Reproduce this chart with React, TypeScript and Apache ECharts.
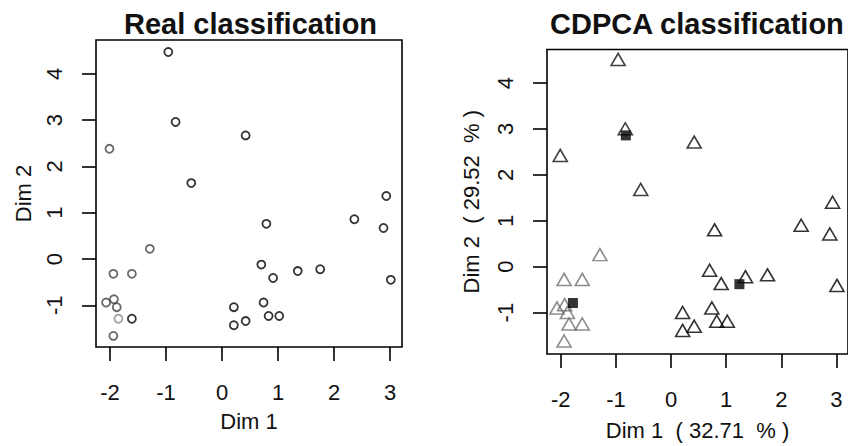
import React, { useEffect, useRef } from "react";
import * as echarts from "echarts";

// Observations (Dim 1, Dim 2)
const dim1 = [-0.96, -0.83, 0.42, -2.01, -0.55, 2.93, 2.36, 0.79, 2.88, -1.29, -1.94, -1.61, 0.7, 0.91, 1.35, 1.75, 3.01, -2.07, -1.93, -1.88, -1.85, -1.61, -1.94, 0.21, 0.21, 0.42, 0.74, 0.83, 1.02];
const dim2 = [4.47, 2.96, 2.67, 2.38, 1.64, 1.36, 0.86, 0.76, 0.67, 0.22, -0.32, -0.32, -0.12, -0.41, -0.26, -0.22, -0.45, -0.94, -0.87, -1.04, -1.29, -1.29, -1.66, -1.04, -1.43, -1.34, -0.94, -1.23, -1.23];
// real class index per observation
const realClass = [0, 0, 0, 1, 0, 0, 0, 0, 0, 1, 1, 1, 0, 0, 0, 0, 0, 1, 1, 1, 2, 0, 1, 0, 0, 0, 0, 0, 0];
// CDPCA class index per observation
const cdpcaClass = [0, 0, 0, 0, 0, 2, 2, 2, 2, 1, 1, 1, 2, 2, 2, 2, 2, 1, 1, 1, 1, 1, 1, 2, 2, 2, 2, 2, 2];
// CDPCA centroids
const centroidDim1 = [-0.82, -1.78, 1.24];
const centroidDim2 = [2.86, -0.79, -0.38];

const xTicks = [-2, -1, 0, 1, 2, 3];
const yTicks = [-1, 0, 1, 2, 3, 4];

const realColors = ["#000000", "#444444", "#888888"];
const cdpcaColors = ["#111111", "#707070", "#000000"];

const FONT = "'Liberation Sans', Arial, sans-serif";

function pts(cls: number[], k: number) {
  const out: number[][] = [];
  for (let i = 0; i < dim1.length; i++) if (cls[i] === k) out.push([dim1[i], dim2[i]]);
  return out;
}

export default function App() {
  const ref = useRef<HTMLDivElement>(null);
  useEffect(() => {
    const chart = echarts.init(ref.current!, undefined, { renderer: "svg" });
    const xAxisBase = (gridIndex: number, name: string, gap: number) => ({
      type: "value",
      gridIndex,
      min: -2.25,
      max: 3.21,
      name,
      nameLocation: "middle",
      nameGap: gap,
      nameTextStyle: { fontFamily: FONT, fontSize: 22, color: "#111" },
      splitLine: { show: false },
      axisLine: { show: false, onZero: false },
      axisTick: { show: true, length: 14, customValues: xTicks, lineStyle: { color: "#000", width: 1.6 } },
      axisLabel: { customValues: xTicks, margin: 34, fontFamily: FONT, fontSize: 22, color: "#111" },
    });
    const yAxisBase = (gridIndex: number, name: string, gap: number, margin: number) => ({
      type: "value",
      gridIndex,
      min: -1.9,
      max: 4.73,
      name,
      nameLocation: "middle",
      nameGap: gap,
      nameRotate: 90,
      nameTextStyle: { fontFamily: FONT, fontSize: 22, color: "#111" },
      splitLine: { show: false },
      axisLine: { show: false, onZero: false },
      axisTick: { show: true, length: 14, customValues: yTicks, lineStyle: { color: "#000", width: 1.6 } },
      axisLabel: { customValues: yTicks, rotate: 90, margin, fontFamily: FONT, fontSize: 22, color: "#111" },
    });
    const series: any[] = [];
    for (let k = 0; k < 3; k++) {
      series.push({
        type: "scatter",
        xAxisIndex: 0,
        yAxisIndex: 0,
        data: pts(realClass, k),
        symbol: "circle",
        symbolSize: 8,
        itemStyle: { color: "rgba(0,0,0,0)", borderColor: realColors[k], borderWidth: 1.8 },
      });
    }
    for (let k = 0; k < 3; k++) {
      series.push({
        type: "scatter",
        xAxisIndex: 1,
        yAxisIndex: 1,
        data: pts(cdpcaClass, k),
        symbol: "triangle",
        symbolSize: [14, 12],
        symbolOffset: [0, -2],
        itemStyle: { color: "rgba(0,0,0,0)", borderColor: cdpcaColors[k], borderWidth: 1.6 },
      });
    }
    series.push({
      type: "scatter",
      xAxisIndex: 1,
      yAxisIndex: 1,
      data: centroidDim1.map((x, i) => [x, centroidDim2[i]]),
      symbol: "rect",
      symbolSize: 10,
      itemStyle: { color: "#000" },
      z: 5,
    });
    chart.setOption({
      animation: false,
      backgroundColor: "#fff",
      title: [
        { text: "Real classification", left: 119, top: 4, textStyle: { fontFamily: FONT, fontSize: 29, fontWeight: "bold", color: "#111" } },
        { text: "CDPCA classification", left: 545, top: 4, textStyle: { fontFamily: FONT, fontSize: 29, fontWeight: "bold", color: "#111" } },
      ],
      grid: [
        { left: 96, top: 40, width: 306, height: 307, show: true, borderColor: "#000", borderWidth: 1.6, backgroundColor: "transparent" },
        { left: 547, top: 49.5, width: 306, height: 307, show: true, borderColor: "#000", borderWidth: 1.6, backgroundColor: "transparent" },
      ],
      xAxis: [xAxisBase(0, "Dim 1", 63), xAxisBase(1, "Dim 1  ( 32.71  % )", 65)],
      yAxis: [yAxisBase(0, "Dim 2", 62, 31), yAxisBase(1, "Dim 2  ( 29.52  % )", 65, 31)],
      series,
    });
    return () => chart.dispose();
  }, []);
  return (
    <div
      ref={ref}
      style={{ position: "fixed", left: 0, top: 0, width: 848, height: 446, background: "#fff" }}
    />
  );
}
